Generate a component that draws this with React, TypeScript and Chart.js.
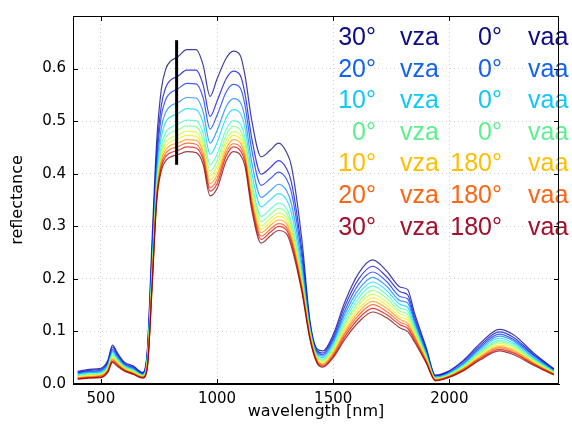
import React, { useEffect, useRef } from 'react';
import { Chart, registerables } from 'chart.js';

Chart.register(...registerables);

const wavelengths = [400, 450, 500, 530, 550, 570, 600, 640, 680, 700, 720, 740, 760, 780, 800, 830, 870, 910, 940, 970, 1000, 1040, 1070, 1100, 1120, 1150, 1190, 1230, 1265, 1300, 1320, 1365, 1400, 1430, 1455, 1500, 1550, 1610, 1670, 1730, 1790, 1820, 1850, 1900, 1940, 1990, 2060, 2130, 2215, 2275, 2360, 2450];

const vza30_vaa0 = [.024,.028,.030,.045,.074,.060,.042,.034,.022,.065,.270,.460,.560,.600,.614,.622,.636,.636,.607,.547,.580,.620,.633,.625,.588,.500,.432,.445,.458,.440,.415,.275,.120,.067,.063,.094,.156,.211,.236,.215,.184,.180,.135,.070,.017,.023,.045,.076,.104,.094,.060,.029];
const vza25_vaa0 = [.022,.026,.028,.042,.070,.057,.040,.032,.021,.061,.252,.437,.529,.565,.578,.585,.597,.597,.569,.509,.538,.581,.595,.587,.553,.466,.399,.412,.425,.409,.384,.255,.116,.064,.059,.089,.148,.200,.224,.204,.175,.170,.128,.066,.016,.022,.043,.072,.099,.089,.057,.028];
const vza20_vaa0 = [.021,.024,.026,.040,.066,.054,.038,.030,.020,.057,.240,.422,.509,.542,.554,.561,.572,.571,.545,.485,.511,.556,.570,.563,.531,.444,.378,.391,.403,.389,.365,.242,.112,.061,.056,.084,.140,.190,.213,.195,.166,.162,.122,.063,.015,.020,.040,.069,.095,.085,.055,.026];
const vza15_vaa0 = [.019,.022,.024,.037,.063,.051,.036,.029,.018,.053,.228,.406,.487,.518,.529,.535,.545,.544,.518,.458,.482,.528,.543,.536,.507,.420,.355,.368,.380,.367,.343,.228,.108,.058,.053,.080,.133,.180,.203,.186,.158,.154,.117,.060,.013,.019,.038,.066,.091,.082,.052,.025];
const vza10_vaa0 = [.018,.021,.022,.035,.060,.049,.035,.027,.017,.050,.218,.393,.470,.499,.508,.514,.524,.522,.497,.437,.459,.507,.522,.515,.488,.401,.337,.351,.362,.350,.326,.217,.105,.056,.050,.076,.126,.172,.194,.178,.151,.146,.112,.057,.012,.018,.037,.063,.087,.078,.050,.024];
const vza5_vaa0 = [.016,.019,.021,.033,.057,.047,.033,.026,.016,.047,.208,.381,.453,.479,.488,.494,.502,.501,.477,.417,.437,.485,.501,.495,.469,.383,.319,.333,.344,.333,.309,.206,.102,.053,.047,.072,.120,.164,.186,.170,.144,.139,.107,.055,.011,.017,.035,.060,.083,.075,.048,.023];
const vza0 = [.015,.018,.019,.031,.055,.045,.032,.025,.016,.044,.203,.374,.444,.469,.478,.483,.491,.489,.465,.405,.424,.474,.490,.483,.458,.373,.309,.323,.334,.324,.300,.200,.099,.051,.045,.068,.114,.156,.178,.163,.138,.133,.103,.052,.011,.016,.033,.058,.080,.072,.046,.022];
const vza5_vaa180 = [.014,.017,.018,.030,.052,.043,.031,.023,.015,.042,.198,.368,.436,.460,.468,.473,.481,.479,.456,.396,.414,.464,.480,.474,.450,.364,.301,.315,.325,.316,.293,.195,.097,.049,.043,.065,.109,.150,.171,.156,.133,.127,.099,.050,.010,.015,.032,.056,.077,.069,.044,.021];
const vza10_vaa180 = [.013,.016,.017,.028,.050,.041,.030,.022,.014,.039,.194,.363,.430,.453,.461,.466,.473,.471,.448,.388,.405,.456,.473,.466,.443,.357,.294,.308,.319,.310,.287,.191,.094,.047,.040,.062,.104,.143,.164,.150,.127,.122,.095,.048,.009,.014,.030,.053,.074,.066,.042,.020];
const vza15_vaa180 = [.012,.014,.016,.027,.048,.039,.028,.021,.013,.037,.191,.359,.424,.446,.454,.458,.465,.464,.441,.381,.397,.448,.465,.459,.436,.350,.288,.302,.312,.304,.280,.187,.092,.045,.038,.059,.099,.137,.157,.144,.122,.116,.091,.046,.008,.013,.029,.051,.071,.064,.041,.019];
const vza20_vaa180 = [.011,.013,.015,.025,.046,.038,.027,.020,.013,.035,.187,.354,.417,.439,.447,.451,.458,.456,.433,.373,.389,.441,.457,.451,.429,.344,.281,.295,.305,.297,.274,.183,.090,.044,.036,.056,.095,.131,.151,.138,.117,.111,.088,.044,.008,.013,.028,.049,.069,.061,.039,.019];
const vza25_vaa180 = [.010,.012,.013,.024,.043,.036,.026,.019,.012,.032,.184,.350,.412,.433,.440,.444,.451,.449,.427,.367,.381,.434,.451,.444,.423,.338,.275,.289,.300,.292,.269,.180,.087,.042,.034,.053,.090,.125,.144,.132,.112,.106,.084,.042,.007,.012,.026,.047,.066,.059,.038,.018];
const vza30_vaa180 = [.009,.011,.012,.022,.041,.034,.025,.018,.011,.030,.180,.345,.405,.425,.432,.436,.442,.440,.418,.358,.372,.425,.442,.436,.415,.330,.268,.282,.292,.285,.262,.175,.085,.040,.032,.050,.085,.118,.137,.126,.106,.100,.080,.040,.006,.011,.025,.045,.063,.056,.036,.017];

const seriesList = [vza30_vaa0, vza25_vaa0, vza20_vaa0, vza15_vaa0, vza10_vaa0, vza5_vaa0, vza0, vza5_vaa180, vza10_vaa180, vza15_vaa180, vza20_vaa180, vza25_vaa180, vza30_vaa180];
const seriesColors = ['#000080', '#0000e0', '#002bff', '#0080ff', '#00d4ff', '#37ffc0', '#7bff7b', '#c0ff37', '#ffe600', '#ff9700', '#ff4800', '#e00000', '#800000'];

const markerX = [826, 826];
const markerY = [0.417, 0.654];

const xTicks = [500, 1000, 1500, 2000];
const yTicks = [0, 0.1, 0.2, 0.3, 0.4, 0.5, 0.6, 0.7];

const legendVza = ['30°', '20°', '10°', '0°', '10°', '20°', '30°'];
const legendVaa = ['0°', '0°', '0°', '0°', '180°', '180°', '180°'];
const legendColors = ['#0c0c88', '#1462f2', '#12c8f8', '#5ef08e', '#ffbf00', '#ff6412', '#a2102c'];

function hexToRgba(hex: string, a: number) {
  const r = parseInt(hex.slice(1, 3), 16);
  const g = parseInt(hex.slice(3, 5), 16);
  const b = parseInt(hex.slice(5, 7), 16);
  return `rgba(${r},${g},${b},${a})`;
}

const framePlugin = {
  id: 'framePlugin',
  afterDraw(chart: any) {
    const { ctx, chartArea } = chart;
    const { left, right, top, bottom } = chartArea;
    const xs = chart.scales.x;
    const ys = chart.scales.y;
    ctx.save();
    ctx.font = '25px "Liberation Sans", Arial, sans-serif';
    ctx.textBaseline = 'alphabetic';
    for (let i = 0; i < legendVza.length; i++) {
      const yb = 45 + i * 31.6;
      ctx.fillStyle = legendColors[i];
      ctx.textAlign = 'right';
      ctx.fillText(legendVza[i], 376, yb);
      ctx.textAlign = 'left';
      ctx.fillText('vza', 400, yb);
      ctx.textAlign = 'right';
      ctx.fillText(legendVaa[i], 502, yb);
      ctx.textAlign = 'left';
      ctx.fillText('vaa', 528, yb);
    }
    ctx.strokeStyle = '#000';
    ctx.lineWidth = 1;
    ctx.beginPath();
    ctx.rect(left + 0.5, top + 0.5, right - left - 1, bottom - top - 1);
    ctx.stroke();
    ctx.beginPath();
    const tl = 5;
    for (const v of xTicks) {
      const px = Math.round(xs.getPixelForValue(v)) + 0.5;
      ctx.moveTo(px, bottom);
      ctx.lineTo(px, bottom - tl);
      ctx.moveTo(px, top);
      ctx.lineTo(px, top + tl);
    }
    for (const v of yTicks) {
      const py = Math.round(ys.getPixelForValue(v)) + 0.5;
      ctx.moveTo(left, py);
      ctx.lineTo(left + tl, py);
      ctx.moveTo(right, py);
      ctx.lineTo(right - tl, py);
    }
    ctx.stroke();
    ctx.restore();
  },
};

export default function App() {
  const canvasRef = useRef<HTMLCanvasElement | null>(null);

  useEffect(() => {
    document.body.style.margin = '0';
    const canvas = canvasRef.current;
    if (!canvas) return;
    const datasets: any[] = seriesList.map((s, i) => ({
      data: wavelengths.map((w, j) => ({ x: w, y: s[j] })),
      borderColor: hexToRgba(seriesColors[i], 0.75),
      borderWidth: 1.2,
      pointRadius: 0,
      fill: false,
      cubicInterpolationMode: 'monotone',
      order: seriesList.length - i,
    }));
    datasets.push({
      data: markerX.map((x, j) => ({ x, y: markerY[j] })),
      borderColor: '#000',
      borderWidth: 3,
      pointRadius: 0,
      fill: false,
      order: 0,
    });

    const tickFont = { family: '"DejaVu Sans", sans-serif', size: 15 };
    const titleFont = { family: '"DejaVu Sans", sans-serif', size: 16 };
    const gridOpts = { color: 'rgba(0,0,0,0.2)', lineWidth: 1, drawTicks: false };

    const chart = new Chart(canvas, {
      type: 'line',
      data: { datasets },
      plugins: [framePlugin],
      options: {
        animation: false,
        responsive: false,
        devicePixelRatio: 1,
        layout: { padding: { top: 6, right: 13, left: 0, bottom: 0 } },
        plugins: { legend: { display: false }, tooltip: { enabled: false } },
        scales: {
          x: {
            type: 'linear',
            min: 380,
            max: 2472,
            afterBuildTicks: (scale: any) => {
              scale.ticks = xTicks.map((v) => ({ value: v }));
            },
            afterFit: (scale: any) => {
              scale.height = 41;
            },
            grid: gridOpts,
            border: { display: true, color: '#000', width: 1, dash: [1, 3] },
            ticks: {
              font: tickFont,
              color: '#000',
              padding: 6,
              maxRotation: 0,
              autoSkip: false,
              callback: (v: any) => String(v),
            },
            title: {
              display: true,
              text: 'wavelength [nm]',
              font: titleFont,
              color: '#000',
              padding: { top: 0, bottom: 4 },
            },
          },
          y: {
            type: 'linear',
            min: 0,
            max: 0.7,
            afterBuildTicks: (scale: any) => {
              scale.ticks = yTicks.map((v) => ({ value: v }));
            },
            afterFit: (scale: any) => {
              scale.width = 73;
            },
            grid: gridOpts,
            border: { display: true, color: '#000', width: 1, dash: [1, 3] },
            ticks: {
              font: tickFont,
              color: '#000',
              padding: 7,
              autoSkip: false,
              callback: (v: any) => (v > 0.65 ? '' : Number(v).toFixed(1)),
            },
            title: {
              display: true,
              text: 'reflectance',
              font: titleFont,
              color: '#000',
              padding: { top: 8, bottom: 0 },
            },
          },
        },
      } as any,
    });
    return () => chart.destroy();
  }, []);

  return (
    <div style={{ width: 572, height: 425 }}>
      <canvas ref={canvasRef} width={572} height={425} style={{ display: 'block' }} />
    </div>
  );
}
